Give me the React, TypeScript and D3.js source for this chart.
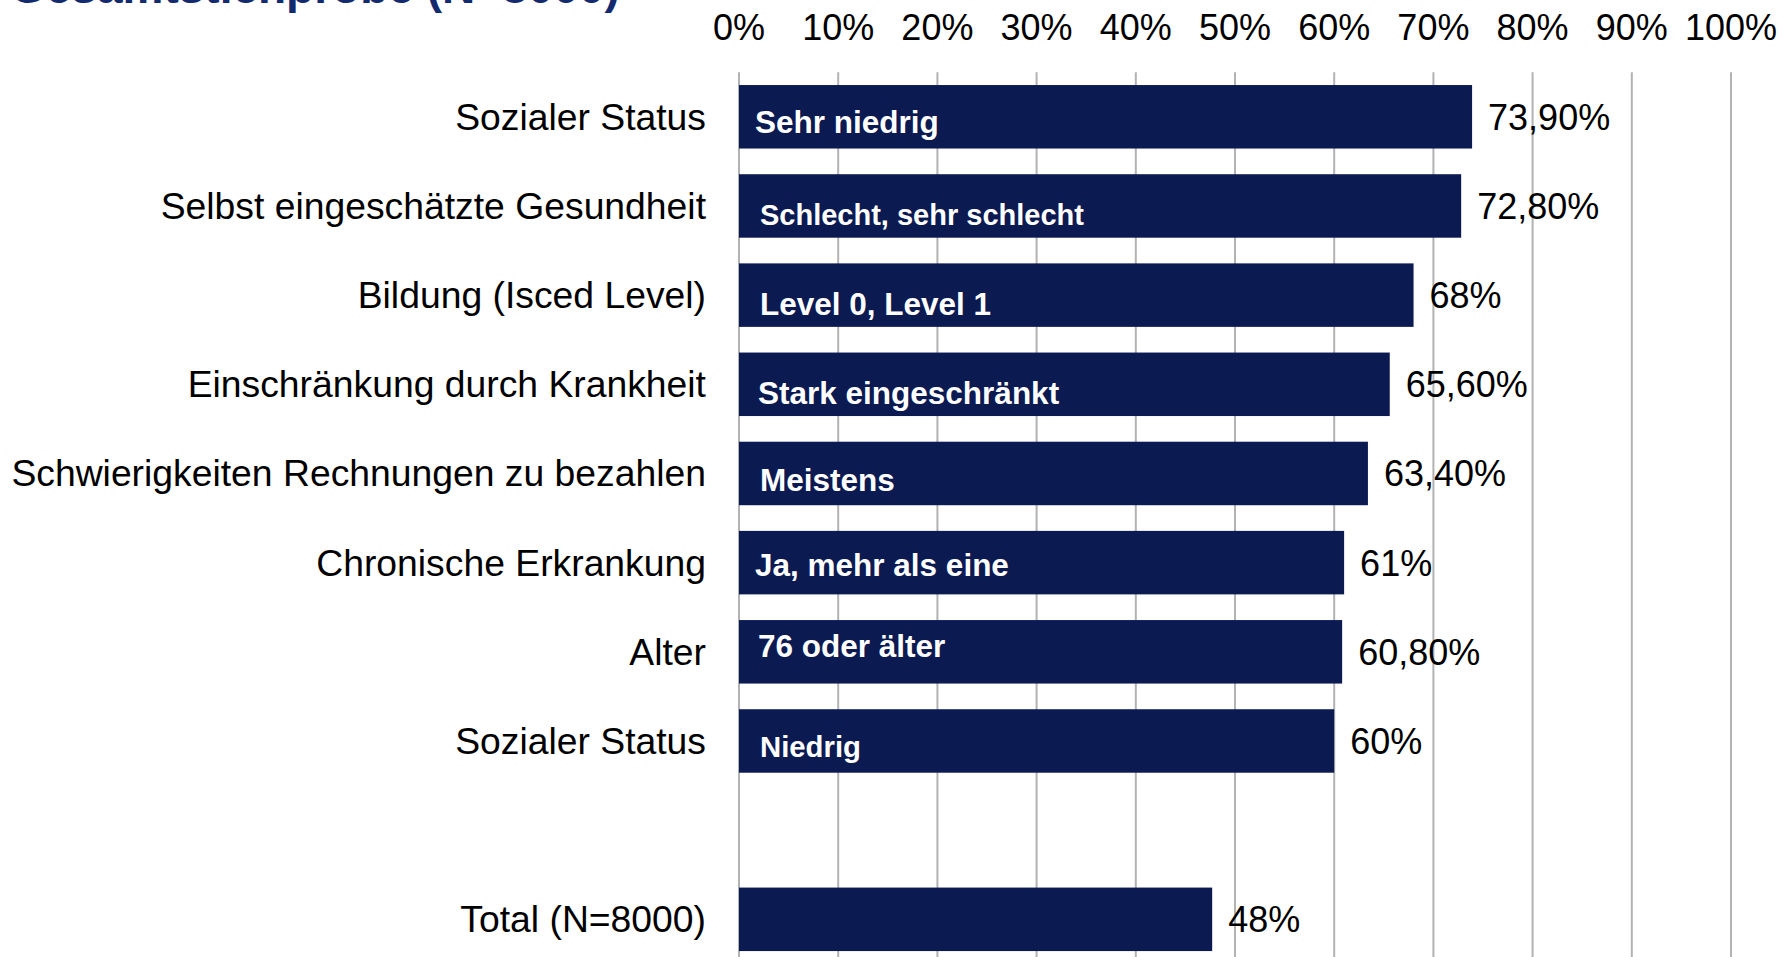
import React from "react";
import * as d3 from "d3";

const categories = [
  "Sozialer Status",
  "Selbst eingeschätzte Gesundheit",
  "Bildung (Isced Level)",
  "Einschränkung durch Krankheit",
  "Schwierigkeiten Rechnungen zu bezahlen",
  "Chronische Erkrankung",
  "Alter",
  "Sozialer Status",
  "",
  "Total (N=8000)",
];
const subgroups = [
  "Sehr niedrig",
  "Schlecht, sehr schlecht",
  "Level 0, Level 1",
  "Stark eingeschränkt",
  "Meistens",
  "Ja, mehr als eine",
  "76 oder älter",
  "Niedrig",
  "",
  "",
];
const values: (number | null)[] = [73.9, 72.8, 68, 65.6, 63.4, 61, 60.8, 60, null, 47.7];
const valueLabels = ["73,90%", "72,80%", "68%", "65,60%", "63,40%", "61%", "60,80%", "60%", "", "48%"];
const ticks = [0, 10, 20, 30, 40, 50, 60, 70, 80, 90, 100];
const title = "Gesamtstichprobe (N=8000)";

// styling of the in-bar labels (offsets relative to bar start / bar centre)
const innerSize = [31.5, 29, 31.5, 31.5, 31.5, 31.5, 31.5, 29.3, 31.5, 31.5];
const innerDx = [16, 21, 21, 19, 21, 16, 19, 21, 0, 0];
const innerDy = [16.5, 19, 20, 20, 18, 13, 5.5, 16, 0, 0];

const W = 1783;
const H = 957;
const FONT = "'Liberation Sans', Arial, Helvetica, sans-serif";
const BAR = "#0c1a52";

export default function App() {
  const x = d3.scaleLinear().domain([0, 100]).range([739, 1731]);
  const y = d3
    .scaleBand<number>()
    .domain(d3.range(categories.length))
    .range([72.2, 72.2 + 89.17 * categories.length])
    .paddingInner(0.288)
    .paddingOuter(0.144);
  const bw = y.bandwidth();

  return (
    <svg
      width={W}
      height={H}
      style={{ position: "absolute", left: 0, top: 0, background: "#fff" }}
      fontFamily={FONT}
    >
      <rect x={0} y={0} width={W} height={H} fill="#fff" />
      <text x={10} y={3} fontSize={46} fontWeight="bold" fill="#132a6e">
        {title}
      </text>
      {ticks.map((t) => (
        <g key={t}>
          <line x1={x(t)} x2={x(t)} y1={72.2} y2={H + 10} stroke="#b2b2b2" strokeWidth={2} />
          <text x={x(t)} y={40} fontSize={36} textAnchor="middle" fill="#000">
            {t}%
          </text>
        </g>
      ))}
      {categories.map((c, i) => {
        const v = values[i];
        const yc = (y(i) as number) + bw / 2;
        return (
          <g key={i}>
            {c && (
              <text x={706} y={yc + 13} fontSize={37.3} textAnchor="end" fill="#000">
                {c}
              </text>
            )}
            {v !== null && (
              <rect x={x(0)} y={y(i)} width={x(v) - x(0)} height={bw} fill={BAR} />
            )}
            {v !== null && subgroups[i] && (
              <text
                x={x(0) + innerDx[i]}
                y={yc + innerDy[i]}
                fontSize={innerSize[i]}
                fontWeight="bold"
                fill="#fff"
              >
                {subgroups[i]}
              </text>
            )}
            {v !== null && (
              <text x={x(v) + 16} y={yc + 13} fontSize={36} fill="#000">
                {valueLabels[i]}
              </text>
            )}
          </g>
        );
      })}
    </svg>
  );
}
